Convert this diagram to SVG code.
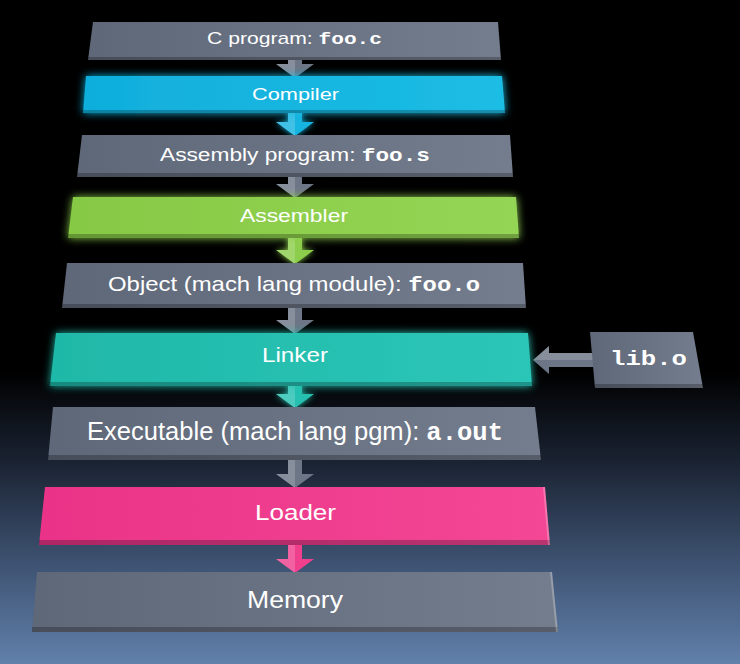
<svg xmlns="http://www.w3.org/2000/svg" width="740" height="664" viewBox="0 0 740 664">
<defs>
<linearGradient id="bg" x1="0" y1="0" x2="0" y2="1">
<stop offset="0" stop-color="#000"/>
<stop offset="0.56" stop-color="#000"/>
<stop offset="0.7" stop-color="#1b2434"/>
<stop offset="0.85" stop-color="#3e5372"/>
<stop offset="1" stop-color="#6180ab"/>
</linearGradient>
<linearGradient id="grey" x1="0" y1="0" x2="1" y2="0">
<stop offset="0" stop-color="#5f6878"/>
<stop offset="1" stop-color="#747d8d"/>
</linearGradient>
<linearGradient id="cyan" x1="0" y1="0" x2="1" y2="0">
<stop offset="0" stop-color="#10aedb"/>
<stop offset="1" stop-color="#1cbde5"/>
</linearGradient>
<linearGradient id="green" x1="0" y1="0" x2="1" y2="0">
<stop offset="0" stop-color="#86c945"/>
<stop offset="1" stop-color="#95d555"/>
</linearGradient>
<linearGradient id="teal" x1="0" y1="0" x2="1" y2="0">
<stop offset="0" stop-color="#1fb8a8"/>
<stop offset="1" stop-color="#2cc6b8"/>
</linearGradient>
<linearGradient id="pink" x1="0" y1="0" x2="1" y2="0">
<stop offset="0" stop-color="#ea3388"/>
<stop offset="1" stop-color="#f44795"/>
</linearGradient>
<filter id="glowC" x="-10%" y="-40%" width="120%" height="180%">
<feGaussianBlur in="SourceGraphic" stdDeviation="4" result="b"/>
<feMerge><feMergeNode in="b"/><feMergeNode in="SourceGraphic"/></feMerge>
</filter>
<filter id="glowT" x="-10%" y="-40%" width="120%" height="180%">
<feGaussianBlur in="SourceGraphic" stdDeviation="3" result="b"/>
<feMerge><feMergeNode in="b"/><feMergeNode in="SourceGraphic"/></feMerge>
</filter>
</defs>
<style>
.t{font-family:"Liberation Sans",Arial,sans-serif;fill:#fff}
.m{font-family:"Liberation Mono","Courier New",monospace;font-weight:bold}
.edge{fill:#000;opacity:0.25}
.hl{fill:#fff;opacity:0.25}
</style>
<rect width="740" height="664" fill="url(#bg)"/>

<g id="connectors">
<path d="M288 58 L302 58 L302 64 L314 64 L295 78 L276 64 L288 64 Z" fill="#6d7686"/>
<path d="M288 111 L302 111 L302 122 L314 122 L295 136 L276 122 L288 122 Z" fill="#18b4e0" filter="url(#glowT)"/>
<path d="M288 175 L302 175 L302 184 L314 184 L295 198 L276 184 L288 184 Z" fill="#6d7686"/>
<path d="M288 236 L302 236 L302 250 L314 250 L295 264 L276 250 L288 250 Z" fill="#8ccd4c" filter="url(#glowT)"/>
<path d="M288 306 L302 306 L302 320 L314 320 L295 334 L276 320 L288 320 Z" fill="#6d7686"/>
<path d="M288 384 L302 384 L302 394 L314 394 L295 408 L276 394 L288 394 Z" fill="#26c0b0" filter="url(#glowT)"/>
<path d="M288 458 L302 458 L302 474 L314 474 L295 488 L276 474 L288 474 Z" fill="#6d7686"/>
<path d="M288 543 L302 543 L302 559 L314 559 L295 573 L276 559 L288 559 Z" fill="#ef3f8d"/>
<path d="M596 353 L596 367 L549 367 L549 374 L533 360 L549 346 L549 353 Z" fill="#6d7686"/>
<g fill="#fff" opacity="0.18">
<path d="M288 58 L295 58 L295 78 L276 64 L288 64 Z"/>
<path d="M288 111 L295 111 L295 136 L276 122 L288 122 Z"/>
<path d="M288 175 L295 175 L295 198 L276 184 L288 184 Z"/>
<path d="M288 236 L295 236 L295 264 L276 250 L288 250 Z"/>
<path d="M288 306 L295 306 L295 334 L276 320 L288 320 Z"/>
<path d="M288 384 L295 384 L295 408 L276 394 L288 394 Z"/>
<path d="M288 458 L295 458 L295 488 L276 474 L288 474 Z"/>
<path d="M288 543 L295 543 L295 573 L276 559 L288 559 Z"/>
<path d="M596 353 L549 353 L549 346 L533 360 L596 360 Z"/>
</g>
</g>

<g id="n1">
<path d="M93 22 L498 22 L501 60 L88 60 Z" fill="url(#grey)"/>
<path d="M88 57 L501 57 L501 60 L88 60 Z" class="edge"/>
<text class="t" x="207" y="43.5" font-size="17" textLength="175" lengthAdjust="spacingAndGlyphs">C program: <tspan class="m">foo.c</tspan></text>
</g>
<g id="n2">
<path d="M86 76 L502 76 L505 113 L83 113 Z" fill="url(#cyan)" filter="url(#glowC)"/>
<path d="M83 110 L505 110 L505 113 L83 113 Z" class="edge"/>
<text class="t" x="252" y="100" font-size="16.5" textLength="87" lengthAdjust="spacingAndGlyphs">Compiler</text>
</g>
<g id="n3">
<path d="M82 135 L510 135 L513 177 L77 177 Z" fill="url(#grey)"/>
<path d="M77 173 L513 173 L513 177 L77 177 Z" class="edge"/>
<text class="t" x="160" y="161" font-size="17.5" textLength="270" lengthAdjust="spacingAndGlyphs">Assembly program: <tspan class="m">foo.s</tspan></text>
</g>
<g id="n4">
<path d="M73 197 L516 197 L519 238 L68 238 Z" fill="url(#green)" filter="url(#glowC)"/>
<path d="M68 234 L519 234 L519 238 L68 238 Z" class="edge"/>
<text class="t" x="240" y="222" font-size="17.5" textLength="108" lengthAdjust="spacingAndGlyphs">Assembler</text>
</g>
<g id="n5">
<path d="M67 263 L523 263 L526 308 L62 308 Z" fill="url(#grey)"/>
<path d="M62 304 L526 304 L526 308 L62 308 Z" class="edge"/>
<text class="t" x="108" y="290.5" font-size="21" textLength="372" lengthAdjust="spacingAndGlyphs">Object (mach lang module): <tspan class="m">foo.o</tspan></text>
</g>
<g id="n6">
<path d="M56 333 L528 333 L532 386 L50 386 Z" fill="url(#teal)" filter="url(#glowC)"/>
<path d="M50 382 L532 382 L532 386 L50 386 Z" class="edge"/>
<text class="t" x="262" y="362" font-size="21" textLength="66" lengthAdjust="spacingAndGlyphs">Linker</text>
</g>
<g id="n6b">
<path d="M590 332 L693 332 L703 388 L595 388 Z" fill="url(#grey)"/>
<path d="M595 384 L703 384 L703 388 L595 388 Z" class="edge"/>
<text class="t m" x="610" y="364.5" font-size="21" textLength="77" lengthAdjust="spacingAndGlyphs">lib.o</text>
</g>
<g id="n7">
<path d="M53 407 L535 407 L541 460 L48 460 Z" fill="url(#grey)"/>
<path d="M48 455 L541 455 L541 460 L48 460 Z" class="edge"/>
<text class="t" x="87" y="440" font-size="25" textLength="416" lengthAdjust="spacingAndGlyphs">Executable (mach lang pgm): <tspan class="m">a.out</tspan></text>
</g>
<g id="n8">
<path d="M45 487 L545 487 L550 545 L39 545 Z" fill="url(#pink)"/>
<path d="M39 540 L550 540 L550 545 L39 545 Z" class="edge"/>
<path d="M543 487 L545 487 L550 545 L548 545 Z" class="hl"/>
<text class="t" x="255" y="520" font-size="22" textLength="81" lengthAdjust="spacingAndGlyphs">Loader</text>
</g>
<g id="n9">
<path d="M37 572 L552 572 L558 632 L32 632 Z" fill="url(#grey)"/>
<path d="M32 627 L558 627 L558 632 L32 632 Z" class="edge"/>
<path d="M550 572 L552 572 L558 632 L556 632 Z" class="hl"/>
<text class="t" x="247" y="608" font-size="24" textLength="96" lengthAdjust="spacingAndGlyphs">Memory</text>
</g>
</svg>
